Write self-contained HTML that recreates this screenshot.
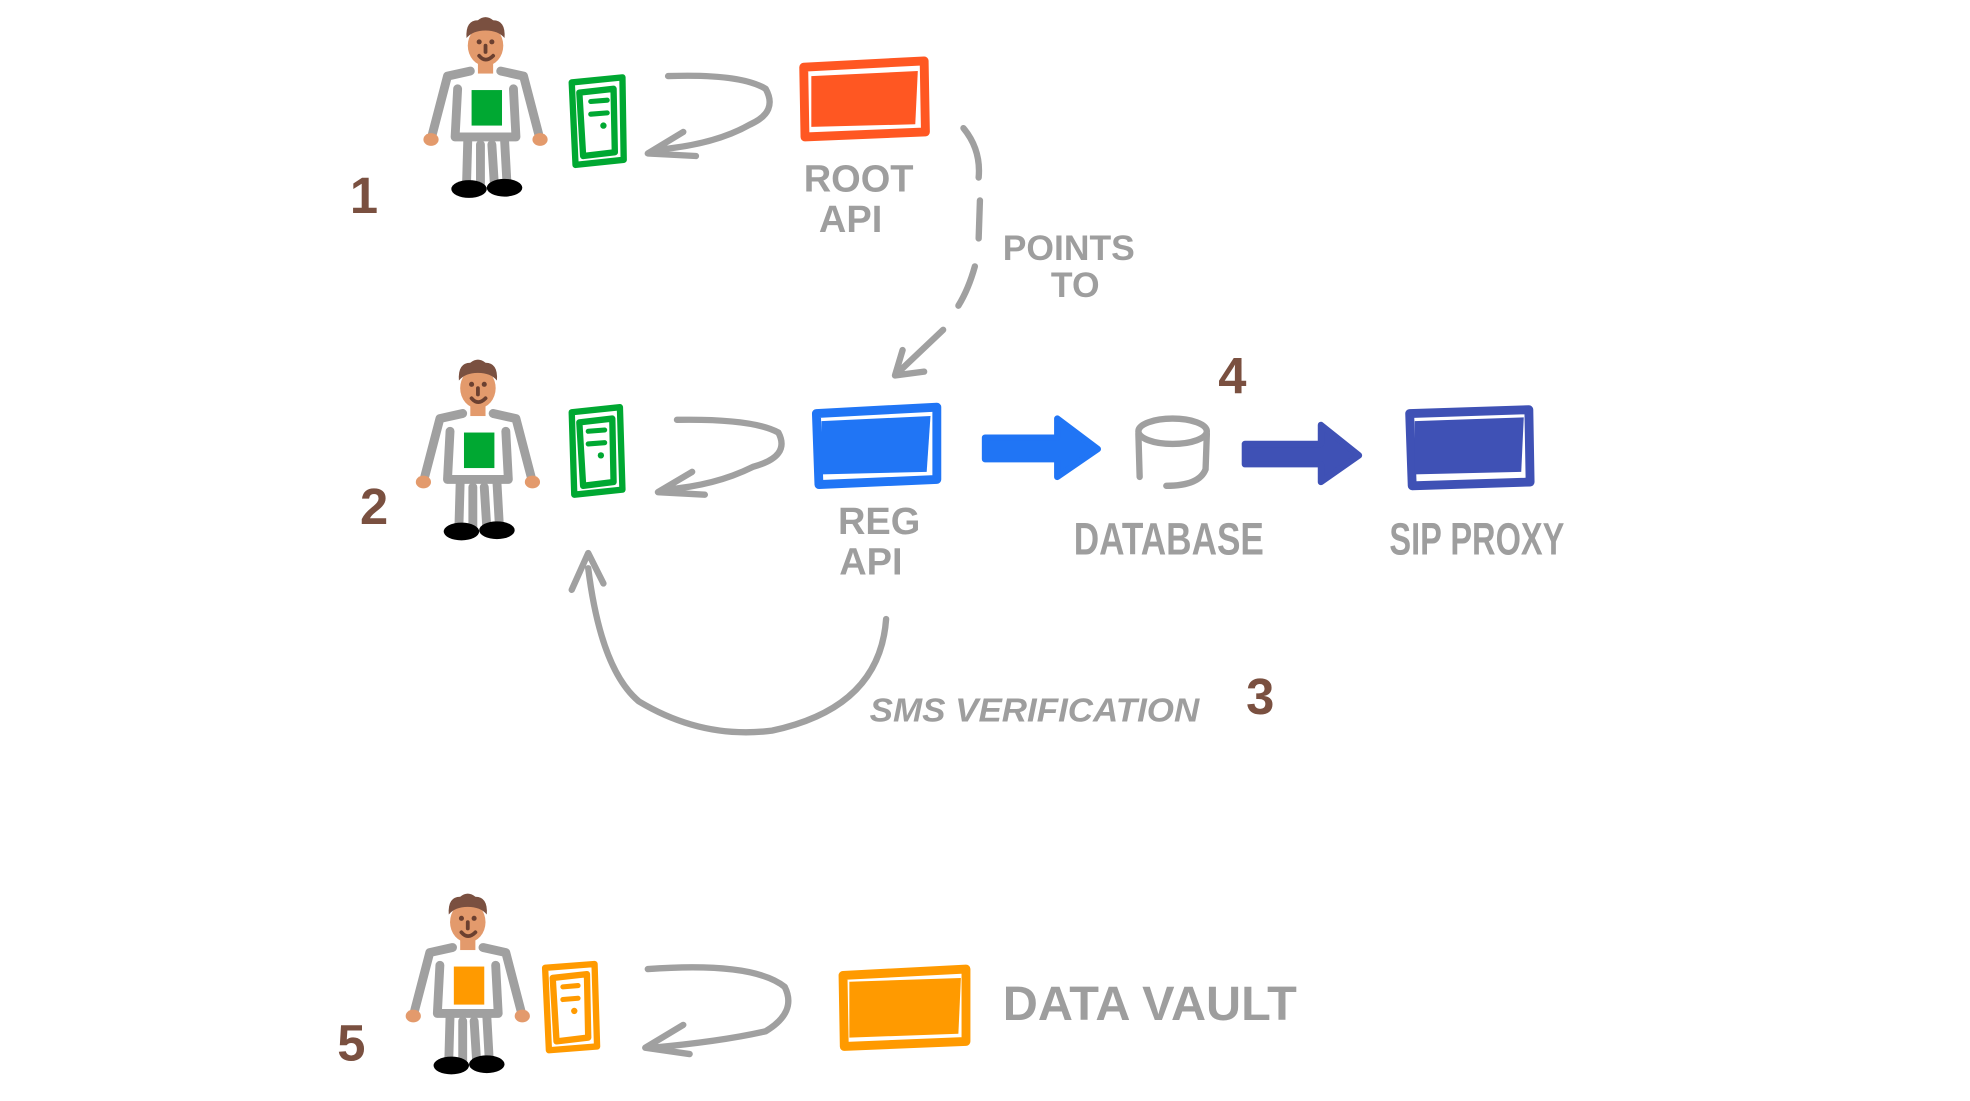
<!DOCTYPE html>
<html><head><meta charset="utf-8"><style>
html,body{margin:0;padding:0;background:#fff;width:1970px;height:1101px;overflow:hidden}
svg{display:block}
text{font-family:"Liberation Sans",sans-serif;fill:#9e9e9e;font-weight:bold}
.n{fill:#7a5040;font-size:40px}
</style></head><body>
<svg width="1970" height="1101" viewBox="0 0 1554 868" preserveAspectRatio="none">
<defs>
<g id="body">
 <g fill="none" stroke="#a0a0a0" stroke-width="7" stroke-linecap="round" stroke-linejoin="round">
  <path d="M-12,20 L-30,24 L-42,70"/>
  <path d="M12,20 L30,24 L42,70"/>
  <path d="M-22,34 L-24,72 L24,72 L22,34"/>
  <path d="M-14,74 L-15,110 M-4,78 L-4,110 M5,78 L7,110 M15,74 L17,110"/>
 </g>
 <ellipse cx="-43" cy="74" rx="6" ry="5" fill="#e39a6c"/>
 <ellipse cx="43" cy="74" rx="6" ry="5" fill="#e39a6c"/>
 <rect x="-6" y="10" width="12" height="12" fill="#e39a6c"/>
 <ellipse cx="0" cy="0" rx="14" ry="16" fill="#e39a6c"/>
 <path d="M-15,-6 Q-16,-20 -6,-20 Q0,-25 6,-20 Q16,-20 15,-6 Q10,-12 0,-12 Q-10,-12 -15,-6Z" fill="#7a5040"/>
 <circle cx="-5" cy="-3" r="2" fill="#6b4030"/><circle cx="5" cy="-3" r="2" fill="#6b4030"/>
 <path d="M0,0 L0,5 M-5,8 Q0,14 6,8" stroke="#6b4030" stroke-width="3" fill="none" stroke-linecap="round"/>
 <ellipse cx="-13" cy="113" rx="14" ry="7" fill="#000"/>
 <ellipse cx="15" cy="112" rx="14" ry="7" fill="#000"/>
</g>
</defs>

<!-- persons -->
<use href="#body" x="383" y="36"/>
<rect x="372" y="71" width="24" height="28" fill="#00a832"/>
<use href="#body" x="377" y="306"/>
<rect x="366" y="341" width="24" height="28" fill="#00a832"/>
<use href="#body" x="369" y="727"/>
<rect x="358" y="762" width="24" height="30" fill="#ff9a00"/>

<g transform="translate(-6,-2)">
<!-- phones -->
<g fill="none" stroke-width="5" stroke-linejoin="round" stroke-linecap="round">
 <g stroke="#00a832">
  <path d="M457,67 L497,63 L498,128 L460,132Z"/><path d="M463,75 L490,72 L491,122 L466,125Z"/>
  <path d="M457,327 L495,323 L497,388 L459,392Z"/><path d="M463,335 L489,332 L490,382 L466,385Z"/>
 </g>
 <g stroke="#ff9a00">
  <path d="M436,765 L475,762 L477,827 L439,830Z"/><path d="M442,773 L469,770 L470,820 L445,823Z"/>
 </g>
</g>
<g stroke-width="4" stroke-linecap="round">
 <path d="M472,82 L485,81 M472,92 L485,91" stroke="#00a832"/><circle cx="482" cy="101" r="2.5" fill="#00a832"/>
 <path d="M470,342 L483,341 M470,352 L483,351" stroke="#00a832"/><circle cx="480" cy="361" r="2.5" fill="#00a832"/>
 <path d="M450,780 L462,779 M450,790 L462,789" stroke="#ff9a00"/><circle cx="459" cy="799" r="2.5" fill="#ff9a00"/>
</g>

<!-- loop arrows -->
<g fill="none" stroke="#a0a0a0" stroke-width="5" stroke-linecap="round" stroke-linejoin="round">
 <path d="M533,62 Q590,60 610,72 Q620,90 598,100 Q570,116 525,120 M545,106 L517,123 L555,125"/>
 <path d="M540,333 Q600,332 620,343 Q630,362 600,370 Q570,385 530,388 M552,374 L525,390 L562,392"/>
 <path d="M517,766 Q600,760 625,780 Q635,800 610,815 Q575,823 520,828 M545,810 L515,828 L550,833"/>
 <path d="M766,103 Q780,120 778,142"/><path d="M779,160 L778,190"/><path d="M775,212 Q770,230 762,243"/>
 <path d="M750,262 L712,298 M712,298 L735,295 M712,298 L718,278"/>
 <path d="M705,490 Q700,560 615,578 Q560,585 510,555 Q480,530 470,450 M457,467 L470,438 L482,462"/>
</g>

<!-- boxes -->
<g stroke-linejoin="round" stroke-linecap="round">
 <path d="M640,55 L735,50 L736,106 L641,110Z" fill="none" stroke="#ff5722" stroke-width="7"/>
 <path d="M646,62 L730,58 L728,100 L646,102Z" fill="#ff5722"/>
 <path d="M650,328 L745,323 L745,380 L652,384Z" fill="none" stroke="#2075f5" stroke-width="7"/>
 <path d="M654,334 L740,330 L737,374 L654,376Z" fill="#2075f5"/>
 <path d="M1118,328 L1212,325 L1213,382 L1120,385Z" fill="none" stroke="#3f51b5" stroke-width="7"/>
 <path d="M1122,334 L1208,331 L1206,374 L1122,376Z" fill="#3f51b5"/>
 <path d="M671,771 L768,766 L768,823 L672,827Z" fill="none" stroke="#ff9a00" stroke-width="7"/>
 <path d="M676,776 L764,773 L762,817 L676,820Z" fill="#ff9a00"/>
</g>

<path d="M783,347 L840,347 L840,332 L872,356 L840,378 L840,364 L783,364Z" fill="#2075f5" stroke="#2075f5" stroke-width="5" stroke-linejoin="round"/>
<path d="M988,352 L1048,352 L1048,337 L1078,361 L1048,382 L1048,368 L988,368Z" fill="#3f51b5" stroke="#3f51b5" stroke-width="5" stroke-linejoin="round"/>

<g fill="none" stroke="#a0a0a0" stroke-width="5" stroke-linecap="round">
 <ellipse cx="931" cy="342" rx="27" ry="10"/>
 <path d="M904,344 L905,378 M958,344 L957,372 Q952,385 926,385"/>
</g>

<text x="640" y="153" font-size="30">ROOT</text>
<text x="652" y="185" font-size="30">API</text>
<text x="797" y="207" font-size="28">POINTS</text>
<text x="835" y="236" font-size="28">TO</text>
<text x="667" y="423" font-size="30">REG</text>
<text x="668" y="455" font-size="30">API</text>
<text x="853" y="439" font-size="36" textLength="150" lengthAdjust="spacingAndGlyphs">DATABASE</text>
<text x="1102" y="439" font-size="36" textLength="138" lengthAdjust="spacingAndGlyphs">SIP PROXY</text>
<text x="692" y="571" font-size="26" font-style="italic" textLength="260" lengthAdjust="spacingAndGlyphs">SMS VERIFICATION</text>
<text x="797" y="806" font-size="38" textLength="232" lengthAdjust="spacingAndGlyphs">DATA VAULT</text>

<text class="n" x="282" y="170">1</text>
<text class="n" x="290" y="415">2</text>
<text class="n" x="989" y="565">3</text>
<text class="n" x="967" y="312">4</text>
<text class="n" x="272" y="838">5</text>
</g>
</svg>
</body></html>
